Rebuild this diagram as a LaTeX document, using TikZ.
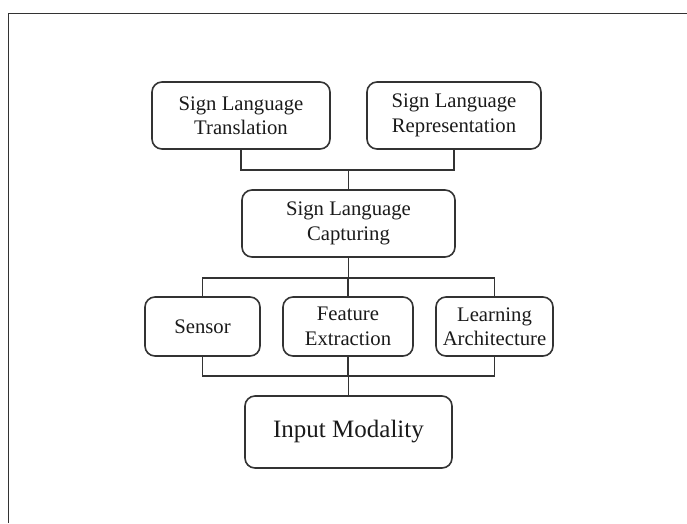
\documentclass[tikz,border=0pt]{standalone}
\usepackage{fontspec}
\setmainfont{Liberation Serif}
\definecolor{linec}{HTML}{333333}
\definecolor{textc}{HTML}{1A1A1A}
\begin{document}
\begin{tikzpicture}[x=1pt,y=-1pt,
  box/.style={draw=linec,line width=1.6pt,rounded corners=10pt,align=center,
    text=textc,font=\fontsize{20.7}{24.5}\selectfont,inner sep=0pt},
  conn/.style={draw=linec,line width=1.6pt}]
\useasboundingbox (0,0) rectangle (687,523);
\draw[linec,line width=1pt] (8,523) -- (8,13) -- (687,13);
\node[box,minimum width=178pt,minimum height=67pt] (SLT) at (241,115.5) {Sign Language\\Translation};
\node[box,minimum width=174pt,minimum height=67pt] (SLR) at (454,115.5) {Sign Language\\Representation};
\node[box,minimum width=213pt,minimum height=67pt] (CAP) at (348.5,223.5) {Sign Language\\Capturing};
\node[box,minimum width=115pt,minimum height=59pt] (SEN) at (202.5,326.5) {Sensor};
\node[box,minimum width=130pt,minimum height=59pt] (FE) at (348,326.5) {Feature\\Extraction};
\node[box,minimum width=117pt,minimum height=59pt] (LA) at (494.5,326.5) {Learning\\Architecture};
\node[box,minimum width=207pt,minimum height=72pt,font=\fontsize{25}{29}\selectfont] (IM) at (348.5,432) {Input Modality};
\coordinate (b1) at (0,170);
\coordinate (b2) at (0,278);
\coordinate (b3) at (0,376);
\draw[conn] (SLT.south) |- (SLR.south |- b1) -- (SLR.south);
\draw[conn] (CAP.north) -- (CAP.north |- b1);
\draw[conn] (CAP.south) -- (CAP.south |- b2);
\draw[conn] (SEN.north) |- (LA.north |- b2) -- (LA.north);
\draw[conn] (FE.north) -- (FE.north |- b2);
\draw[conn] (SEN.south) |- (LA.south |- b3) -- (LA.south);
\draw[conn] (FE.south) -- (FE.south |- b3);
\draw[conn] (IM.north) -- (IM.north |- b3);
\end{tikzpicture}
\end{document}
